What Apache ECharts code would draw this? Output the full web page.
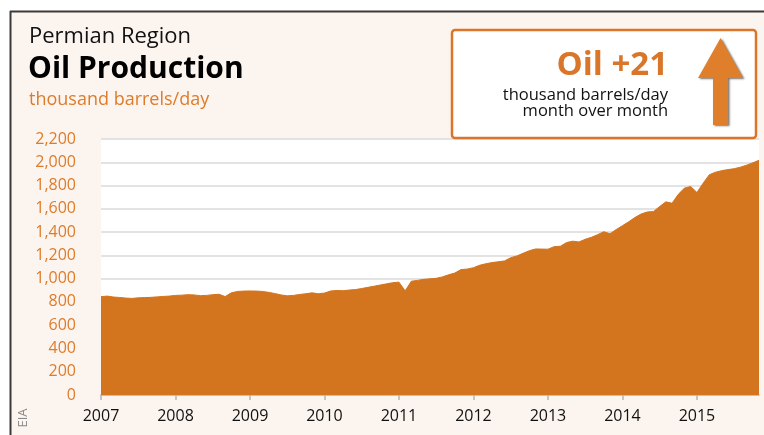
<!DOCTYPE html>
<html>
<head>
<meta charset="utf-8">
<script src="https://cdn.jsdelivr.net/npm/echarts@6/dist/echarts.min.js"></script>
<style>
  html, body { margin: 0; padding: 0; background: #ffffff; }
  #chart { width: 764px; height: 435px; }
</style>
</head>
<body>
<div id="chart"></div>
<script>
// Permian Region monthly crude oil production, thousand barrels/day
const years = ['2007', '2008', '2009', '2010', '2011', '2012', '2013', '2014', '2015'];

const oil2007 = [845, 850, 842, 838, 833, 830, 835, 837, 839, 843, 847, 850];
const oil2008 = [856, 858, 862, 860, 854, 856, 862, 866, 846, 878, 890, 893];
const oil2009 = [894, 893, 890, 882, 872, 860, 852, 856, 864, 870, 878, 870];
const oil2010 = [876, 894, 898, 896, 902, 906, 915, 925, 935, 945, 955, 965];
const oil2011 = [970, 895, 978, 985, 994, 998, 1003, 1015, 1033, 1048, 1078, 1082];
const oil2012 = [1094, 1115, 1128, 1138, 1145, 1152, 1180, 1195, 1218, 1240, 1255, 1254];
const oil2013 = [1253, 1275, 1278, 1310, 1322, 1315, 1338, 1355, 1378, 1403, 1386, 1422];
const oil2014 = [1455, 1488, 1525, 1555, 1573, 1576, 1620, 1660, 1648, 1725, 1778, 1792];
const oil2015 = [1740, 1820, 1893, 1915, 1928, 1937, 1945, 1958, 1975, 1995, 2017];

const yTicks = [0, 200, 400, 600, 800, 1000, 1200, 1400, 1600, 1800, 2000, 2200];

const changeLabel = 'Oil +21';
const changeUnit = 'thousand barrels/day';
const changePeriod = 'month over month';

const production = [].concat(oil2007, oil2008, oil2009, oil2010, oil2011,
                             oil2012, oil2013, oil2014, oil2015);

// one category per month, "YYYY-MM"
const months = [];
production.forEach(function (_, i) {
  const y = Number(years[0]) + Math.floor(i / 12);
  const m = (i % 12) + 1;
  months.push(y + '-' + (m < 10 ? '0' + m : m));
});
const isJanuary = function (idx, val) { return /-01$/.test(val); };

const ORANGE = '#d3741f';
const TEXT_ORANGE = '#de7b2a';
const FONT = '"Open Sans", "Noto Sans", sans-serif';

const chart = echarts.init(document.getElementById('chart'), null, { renderer: 'canvas' });

chart.setOption({
  animation: false,
  backgroundColor: '#fcf5ef',
  grid: {
    left: 101, right: 5, top: 139, bottom: 40,
    show: true, backgroundColor: '#ffffff', borderWidth: 0
  },
  xAxis: {
    type: 'category',
    data: months,
    boundaryGap: false,
    axisLine: { show: true, lineStyle: { color: '#b5b5b5', width: 1.5 } },
    axisTick: { show: true, interval: isJanuary, length: 5, lineStyle: { color: '#b5b5b5', width: 1.5 } },
    axisLabel: {
      interval: isJanuary,
      margin: 13,
      color: '#111111',
      fontFamily: FONT,
      fontSize: 16,
      formatter: function (v) { return v.slice(0, 4); }
    },
    splitLine: { show: false }
  },
  yAxis: {
    type: 'value',
    min: yTicks[0],
    max: yTicks[yTicks.length - 1],
    interval: yTicks[1] - yTicks[0],
    axisLine: { show: false },
    axisTick: { show: false },
    axisLabel: {
      margin: 25,
      color: TEXT_ORANGE,
      fontFamily: FONT,
      fontSize: 16,
      formatter: function (v) { return v.toLocaleString('en-US'); }
    },
    splitLine: { show: true, lineStyle: { color: '#dadada', width: 1.5 } }
  },
  series: [{
    type: 'line',
    data: production,
    symbol: 'none',
    smooth: false,
    lineStyle: { color: ORANGE, width: 1 },
    areaStyle: { color: ORANGE, opacity: 1 },
    z: 3
  }],
  graphic: [
    // white margin above and left of the panel, with its dark border
    { type: 'rect', shape: { x: 0, y: 0, width: 764, height: 11 }, style: { fill: '#ffffff' }, z: 10 },
    { type: 'rect', shape: { x: 0, y: 0, width: 10, height: 435 }, style: { fill: '#ffffff' }, z: 10 },
    { type: 'line', shape: { x1: 10, y1: 11.5, x2: 764, y2: 11.5 }, style: { stroke: '#3a3a3a', lineWidth: 2 }, z: 11 },
    { type: 'line', shape: { x1: 10.5, y1: 11, x2: 10.5, y2: 435 }, style: { stroke: '#3a3a3a', lineWidth: 2 }, z: 11 },

    // headings
    { type: 'text', left: 29, top: 26, style: { text: 'Permian Region', fill: '#111111', font: '22px ' + FONT }, z: 12 },
    { type: 'text', left: 28, top: 54, style: { text: 'Oil Production', fill: '#000000', font: 'bold 30px ' + FONT }, z: 12 },
    { type: 'text', left: 29, top: 91, style: { text: 'thousand barrels/day', fill: TEXT_ORANGE, font: '18px ' + FONT }, z: 12 },

    // callout box
    { type: 'rect', shape: { x: 452, y: 30, width: 304, height: 108, r: 3 },
      style: { fill: '#ffffff', stroke: '#d9762a', lineWidth: 2.5 }, z: 12 },
    { type: 'text', x: 668, y: 49, style: { text: changeLabel, fill: '#d9762a', font: 'bold 33px ' + FONT, align: 'right', verticalAlign: 'top' }, z: 13 },
    { type: 'text', x: 668, y: 87, style: { text: changeUnit, fill: '#111111', font: '16.5px ' + FONT, align: 'right', verticalAlign: 'top' }, z: 13 },
    { type: 'text', x: 668, y: 103, style: { text: changePeriod, fill: '#111111', font: '16.5px ' + FONT, align: 'right', verticalAlign: 'top' }, z: 13 },

    // up arrow
    { type: 'polygon', z: 13,
      shape: { points: [[720.5, 38], [743, 78], [728, 78], [728, 125], [713, 125], [713, 78], [698, 78]] },
      style: { fill: '#e07f2b', shadowColor: 'rgba(40,20,0,0.6)', shadowBlur: 2, shadowOffsetX: 1.5, shadowOffsetY: 1 } },

    // source
    { type: 'text', x: 23, y: 418, rotation: Math.PI / 2,
      style: { text: 'EIA', fill: '#8a8a8a', font: '13px ' + FONT, align: 'center', verticalAlign: 'middle' }, z: 12 }
  ]
});
</script>
</body>
</html>
